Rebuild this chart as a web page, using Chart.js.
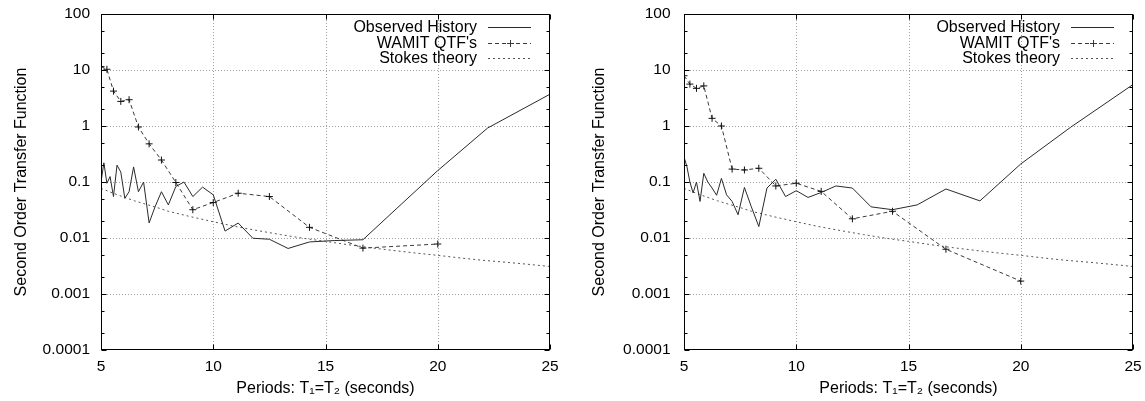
<!DOCTYPE html>
<html><head><meta charset="utf-8">
<script src="https://cdn.jsdelivr.net/npm/chart.js@4/dist/chart.umd.min.js"></script>
<style>
html,body{margin:0;padding:0;background:#fff;width:1145px;height:401px;overflow:hidden}
.box{position:absolute;top:0;height:401px}
#b1{left:0;width:572px}
#b2{left:572px;width:573px}
</style></head><body>
<div class="box" id="b1"><canvas id="c1" width="572" height="401"></canvas></div>
<div class="box" id="b2"><canvas id="c2" width="573" height="401"></canvas></div>
<script>
// ---- data ----
const obsPeriods = [5.0,5.128,5.263,5.405,5.556,5.714,5.882,6.061,6.25,6.452,6.667,6.897,7.143,7.407,7.692,8.0,8.333,8.696,9.091,9.524,10.0,10.526,11.111,11.765,12.5,13.333,14.286,15.385,16.667,18.182,20.0,22.222,25.0];
const obsLeft  = [0.10,0.22,0.095,0.125,0.055,0.20,0.15,0.051,0.067,0.186,0.067,0.10,0.0186,0.036,0.067,0.039,0.083,0.10,0.055,0.081,0.059,0.0133,0.0185,0.0099,0.0095,0.0065,0.0085,0.0090,0.0093,0.034,0.16,0.92,3.7];
const obsRight = [0.28,0.19,0.10,0.064,0.10,0.045,0.143,0.10,0.078,0.058,0.116,0.059,0.045,0.026,0.080,0.036,0.016,0.078,0.112,0.055,0.070,0.053,0.065,0.085,0.078,0.036,0.032,0.039,0.075,0.046,0.21,0.95,5.5];
const wamitPeriods = [5.0,5.263,5.556,5.882,6.25,6.667,7.143,7.692,8.333,9.091,10.0,11.111,12.5,14.286,16.667,20.0];
const wamitLeft  = [11.5,10.3,4.2,2.75,2.95,0.96,0.48,0.247,0.098,0.032,0.043,0.063,0.055,0.0155,0.0066,0.0078];
const wamitRight = [7.9,5.6,4.7,5.2,1.37,1.0,0.17,0.164,0.176,0.085,0.095,0.068,0.022,0.030,0.0063,0.0017];
const stokesPeriods = [5,5.5,6,6.5,7,7.5,8,9,10,11,12,13,14,15,16,17,18,19,20,21,22,23,24,25];
const stokesValues  = [0.077,0.064,0.054,0.046,0.040,0.035,0.030,0.024,0.0195,0.016,0.0135,0.0115,0.0099,0.0087,0.0076,0.0067,0.006,0.0054,0.0049,0.0044,0.004,0.0037,0.0034,0.0031];
const yTickValues = [0.0001,0.001,0.01,0.1,1,10,100];
const yTickLabels = ['0.0001','0.001','0.01','0.1','1','10','100'];
const yMinorValues = [0.0002,0.0005,0.002,0.005,0.02,0.05,0.2,0.5,2,5,20,50];
const xTickValues = [5,10,15,20,25];
const xGridValues = [10,15,20];
const seriesNames = ['Observed History',"WAMIT QTF's",'Stokes theory'];
const xTitle = 'Periods: T\u2081=T\u2082 (seconds)';
const yTitle = 'Second Order Transfer Function';

const FONT = "'Liberation Sans', Arial, Helvetica, sans-serif";
const OBS_COLOR = '#2a2a2a', WAMIT_COLOR = '#3a3a3a', STOKES_COLOR = '#555';
const WAMIT_DASH = [4,3], STOKES_DASH = [2,3];

const decorPlugin = {
  id: 'decor',
  beforeDatasetsDraw(chart) {
    const {ctx, chartArea: a, scales: {x, y}} = chart;
    ctx.save();
    ctx.strokeStyle = '#a0a0a0';
    ctx.lineWidth = 1;
    ctx.setLineDash([1,2]);
    yTickValues.slice(1,-1).forEach(v => {
      const py = Math.round(y.getPixelForValue(v)) + 0.5;
      ctx.beginPath(); ctx.moveTo(a.left, py); ctx.lineTo(a.right, py); ctx.stroke();
    });
    xGridValues.forEach(v => {
      const px = Math.round(x.getPixelForValue(v)) + 0.5;
      ctx.beginPath(); ctx.moveTo(px, a.top); ctx.lineTo(px, a.bottom); ctx.stroke();
    });
    ctx.restore();
  },
  afterDatasetsDraw(chart) {
    const {ctx, chartArea: a, scales: {x, y}} = chart;
    ctx.save();
    ctx.strokeStyle = '#000';
    ctx.lineWidth = 1;
    ctx.setLineDash([]);
    const L = Math.round(a.left) + 0.5, R = Math.round(a.right) - 0.5;
    const T = Math.round(a.top) + 0.5, B = Math.round(a.bottom) - 0.5;
    ctx.beginPath();
    const tick = (v, len) => {
      const py = Math.round(y.getPixelForValue(v)) + 0.5;
      ctx.moveTo(L, py); ctx.lineTo(L + len, py);
      ctx.moveTo(R, py); ctx.lineTo(R - len, py);
    };
    yTickValues.forEach(v => tick(v, 5));
    yMinorValues.forEach(v => tick(v, 3));
    xTickValues.forEach(v => {
      const px = Math.round(x.getPixelForValue(v)) + 0.5;
      ctx.moveTo(px, B); ctx.lineTo(px, B - 5);
      ctx.moveTo(px, T); ctx.lineTo(px, T + 5);
    });
    ctx.stroke();
    ctx.strokeRect(L, T, R - L, B - T);
    // legend
    ctx.font = '16px ' + FONT;
    ctx.fillStyle = '#000';
    ctx.textAlign = 'right';
    ctx.textBaseline = 'middle';
    const rows = [27, 42.5, 58];
    const styles = [
      {c: OBS_COLOR, d: []},
      {c: WAMIT_COLOR, d: WAMIT_DASH, mark: true},
      {c: STOKES_COLOR, d: STOKES_DASH}
    ];
    seriesNames.forEach((name, i) => {
      ctx.fillText(name, a.right - 73, rows[i] + 1);
      const s = styles[i];
      const ly = Math.round(rows[i]) + 0.5;
      ctx.strokeStyle = s.c;
      ctx.setLineDash(s.d);
      ctx.beginPath(); ctx.moveTo(a.right - 62, ly); ctx.lineTo(a.right - 19, ly); ctx.stroke();
      if (s.mark) {
        ctx.setLineDash([]);
        const mx = Math.round(a.right - 40) + 0.5;
        ctx.beginPath();
        ctx.moveTo(mx - 3.5, ly); ctx.lineTo(mx + 3.5, ly);
        ctx.moveTo(mx, ly - 3.5); ctx.lineTo(mx, ly + 3.5);
        ctx.stroke();
      }
    });
    ctx.restore();
  }
};

function makeChart(id, obs, wamit, cfg) {
  const toPts = (xs, ys) => xs.map((v, i) => ({x: v, y: ys[i]}));
  return new Chart(document.getElementById(id), {
    type: 'line',
    data: {
      datasets: [
        {label: seriesNames[0], data: toPts(obsPeriods, obs), borderColor: OBS_COLOR, borderWidth: 1, pointRadius: 0, tension: 0, fill: false},
        {label: seriesNames[1], data: toPts(wamitPeriods, wamit), borderColor: WAMIT_COLOR, borderWidth: 1, borderDash: WAMIT_DASH, pointStyle: 'cross', pointRadius: 3.5, pointBorderWidth: 1, pointBorderColor: '#111', pointBackgroundColor: '#111', tension: 0, fill: false},
        {label: seriesNames[2], data: toPts(stokesPeriods, stokesValues), borderColor: STOKES_COLOR, borderWidth: 1, borderDash: STOKES_DASH, pointRadius: 0, tension: 0, fill: false}
      ]
    },
    options: {
      responsive: false,
      animation: false,
      devicePixelRatio: 1,
      layout: {padding: {top: 14, right: cfg.padRight, left: 0, bottom: 0}},
      plugins: {legend: {display: false}, tooltip: {enabled: false}},
      elements: {point: {hoverRadius: 3.5}},
      scales: {
        x: {
          type: 'linear', min: 5, max: 25,
          afterBuildTicks: s => { s.ticks = xTickValues.map(v => ({value: v})); },
          ticks: {color: '#000', font: {family: FONT, size: 15.5}, padding: 7, maxRotation: 0, callback: v => String(v)},
          grid: {display: false, drawTicks: false},
          border: {display: false},
          title: {display: true, text: xTitle, color: '#000', font: {family: FONT, size: 16}, padding: {top: 0, bottom: 3}},
          afterFit: s => { s.height = 51; s.paddingLeft = 0; s.paddingRight = 0; s.paddingTop = 0; s.paddingBottom = 0; }
        },
        y: {
          type: 'logarithmic', min: 0.0001, max: 100,
          afterBuildTicks: s => { s.ticks = yTickValues.map(v => ({value: v})); },
          ticks: {color: '#000', font: {family: FONT, size: 15.5}, padding: cfg.yTickPad, autoSkip: false, callback: (v, i) => yTickLabels[i]},
          grid: {display: false, drawTicks: false},
          border: {display: false},
          title: {display: true, text: yTitle, color: '#000', font: {family: FONT, size: 16}, padding: {top: cfg.yTitlePad, bottom: 0}},
          afterFit: s => { s.width = cfg.yWidth; s.paddingTop = 0; s.paddingBottom = 0; s.paddingLeft = 0; s.paddingRight = 0; }
        }
      }
    },
    plugins: [decorPlugin]
  });
}

makeChart('c1', obsLeft, wamitLeft, {yWidth: 101, padRight: 22, yTickPad: 11, yTitlePad: 11.5});
makeChart('c2', obsRight, wamitRight, {yWidth: 112, padRight: 12, yTickPad: 13.5, yTitlePad: 17.5});
</script>
</body></html>
